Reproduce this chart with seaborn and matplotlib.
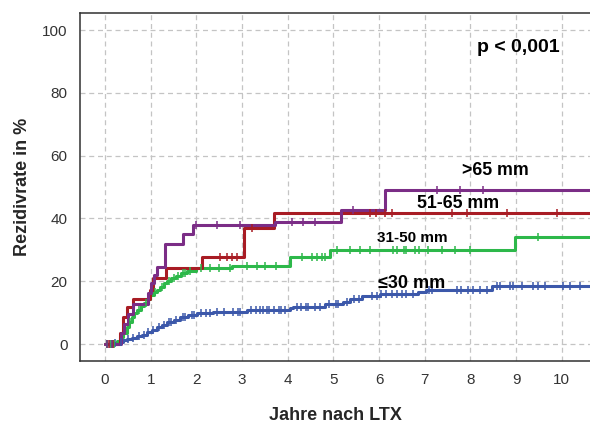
import numpy as np
import pandas as pd
import matplotlib
matplotlib.use("Agg")
import matplotlib.pyplot as plt
import seaborn as sns

# Cumulative recurrence (Kaplan-Meier style) by tumour size group
groups = ["≤30 mm", "31-50 mm", "51-65 mm", ">65 mm"]
colors = ["#3C58AA", "#2DB84A", "#A81C24", "#7B2D86"]

# step times (years) and cumulative rate after each step (%)
t_le30 = [0.18, 0.30, 0.40, 0.47, 0.58, 0.69, 0.80, 0.91, 1.02, 1.13, 1.24, 1.35,
          1.50, 1.64, 1.82, 2.01, 2.37, 3.10, 4.05, 4.12, 4.82, 5.22, 5.36, 5.62,
          6.02, 6.85, 7.02, 8.47]
v_le30 = [0.3, 0.8, 1.2, 1.6, 2.0, 2.5, 3.0, 3.7, 4.5, 5.5, 6.2, 7.0,
          7.8, 8.5, 9.2, 9.8, 10.3, 10.8, 11.4, 11.9, 12.8, 13.5, 14.5, 15.3,
          15.8, 16.5, 17.3, 18.5]
c_le30 = [0.05, 0.10, 0.15, 0.22, 0.35, 0.50, 0.62, 0.75, 0.85, 0.95, 1.05, 1.18,
          1.28, 1.40, 1.45, 1.55, 1.70, 1.75, 1.90, 1.95, 2.10, 2.20, 2.30, 2.45,
          2.60, 2.80, 2.90, 2.95, 3.20, 3.30, 3.40, 3.45, 3.55, 3.60, 3.70, 3.80,
          3.85, 3.95, 4.20, 4.30, 4.40, 4.45, 4.60, 4.70, 4.90, 5.05, 5.10, 5.30,
          5.45, 5.55, 5.84, 5.95, 6.05, 6.15, 6.28, 6.40, 6.50, 6.60, 6.75, 7.10,
          7.15, 7.70, 7.80, 7.95, 8.05, 8.20, 8.36, 8.58, 8.65, 8.87, 8.94, 9.12,
          9.38, 9.49, 9.63, 10.03, 10.18, 10.40]

t_31_50 = [0.26, 0.33, 0.40, 0.47, 0.52, 0.58, 0.64, 0.70, 0.78, 0.86, 0.93, 0.99,
           1.06, 1.13, 1.20, 1.28, 1.36, 1.45, 1.55, 1.66, 1.80, 2.00, 2.77, 4.05,
           4.93, 8.98]
v_31_50 = [1.0, 2.3, 3.6, 5.5, 7.0, 8.7, 9.8, 10.8, 12.0, 13.0, 14.3, 15.6,
           16.5, 17.3, 18.3, 19.3, 20.1, 21.0, 21.8, 22.6, 23.4, 24.1, 24.9, 27.8,
           30.1, 34.2]
c_31_50 = [0.05, 0.12, 0.20, 0.55, 0.75, 0.90, 1.10, 1.25, 1.40, 1.50, 1.60, 1.70,
           1.75, 1.85, 2.10, 2.30, 2.50, 2.74, 3.10, 3.33, 3.50, 3.75, 4.31, 4.53,
           4.63, 4.74, 4.82, 5.07, 5.37, 5.58, 5.80, 6.31, 6.39, 6.54, 6.60, 6.79,
           6.87, 7.08, 7.37, 7.66, 7.99, 9.49]

t_51_65 = [0.33, 0.39, 0.47, 0.62, 0.98, 1.04, 1.34, 2.12, 3.04, 3.70]
v_51_65 = [3.4, 8.7, 11.9, 14.5, 17.2, 20.9, 24.1, 27.6, 36.8, 41.6]
c_51_65 = [0.08, 0.18, 2.52, 2.66, 2.77, 2.88, 3.21, 5.80, 5.93, 6.13, 6.28, 7.59,
           7.92, 8.80, 9.90]

t_gt65 = [0.35, 0.42, 0.50, 0.62, 0.95, 1.00, 1.06, 1.14, 1.31, 1.71, 1.93, 3.72,
          5.16, 6.13]
v_gt65 = [3.5, 6.5, 9.7, 12.9, 16.1, 19.4, 22.0, 24.5, 31.8, 35.0, 38.0, 39.0,
          42.8, 49.0]
c_gt65 = [0.05, 0.15, 2.00, 2.45, 2.96, 4.09, 4.34, 4.60, 5.43, 7.26, 7.77, 8.27]

follow_up_end = 10.8

steps = {
    "≤30 mm": (t_le30, v_le30, c_le30),
    "31-50 mm": (t_31_50, v_31_50, c_31_50),
    "51-65 mm": (t_51_65, v_51_65, c_51_65),
    ">65 mm": (t_gt65, v_gt65, c_gt65),
}

curve_rows, cens_rows = [], []
for g in groups:
    t, v, c = steps[g]
    tt = [0.0] + list(t) + [follow_up_end]
    vv = [0.0] + list(v) + [v[-1]]
    curve_rows += [dict(time=a, rate=b, group=g) for a, b in zip(tt, vv)]
    # censored observations sit on the step curve
    idx = np.searchsorted(tt, c, side="right") - 1
    cens_rows += [dict(time=a, rate=vv[i], group=g) for a, i in zip(c, idx)]

curves = pd.DataFrame(curve_rows)
censored = pd.DataFrame(cens_rows)
palette = dict(zip(groups, colors))

sns.set_style("white")
plt.rcParams["font.family"] = ["Liberation Sans", "DejaVu Sans"]

fig = plt.figure(figsize=(5.9, 4.23), dpi=100)
ax = fig.add_axes([0.1356, 0.1466, 0.8644, 0.8224])

for g in groups:
    sub = curves[curves.group == g]
    sns.lineplot(data=sub, x="time", y="rate", color=palette[g], ax=ax,
                 drawstyle="steps-post", estimator=None, sort=False,
                 linewidth=2.2, legend=False, zorder=3)
    cs = censored[censored.group == g]
    sns.scatterplot(data=cs, x="time", y="rate", color=palette[g], ax=ax,
                    marker="|", s=38, linewidth=1.1, legend=False, zorder=4)

ax.set_xlim(-0.55, 10.62)
ax.set_ylim(-5.4, 105.4)
ax.set_xticks(range(0, 11))
ax.set_yticks(range(0, 101, 20))
ax.grid(True, color="#C4C4C4", linestyle=(0, (4, 3)), linewidth=0.9, zorder=0)
ax.set_axisbelow(True)

for side in ["left", "bottom", "top"]:
    ax.spines[side].set_color("#303030")
    ax.spines[side].set_linewidth(1.1)
ax.spines["right"].set_visible(False)
ax.tick_params(axis="both", direction="out", length=5, width=1.0,
               color="#303030", labelsize=11, labelcolor="#333333", pad=4)

ax.set_xlabel("Jahre nach LTX", fontsize=13, fontweight="bold", labelpad=14)
ax.set_ylabel("Rezidivrate in %", fontsize=13, fontweight="bold", labelpad=8)

label_pos = {
    ">65 mm": (8.54, 55.4, 12.8),
    "51-65 mm": (7.73, 44.9, 12.8),
    "31-50 mm": (6.72, 33.8, 11),
    "≤30 mm": (6.72, 19.3, 13),
}
for g, (x, y, fs) in label_pos.items():
    ax.text(x, y, g, ha="center", va="center", fontsize=fs,
            fontweight="bold", color="black", zorder=5)

ax.text(9.04, 94.6, "p < 0,001", ha="center", va="center", fontsize=14,
        fontweight="bold", color="black")

fig.savefig("out.png", dpi=100)
